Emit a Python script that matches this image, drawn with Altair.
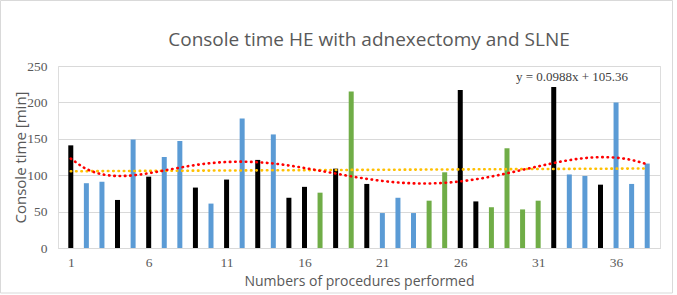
import altair as alt
import pandas as pd

procedures = list(range(1, 39))
console_time = [141, 89, 91, 66, 149, 98, 125, 147, 83, 61,
                94, 178, 121, 156, 69, 84, 76, 109, 215, 88,
                48, 69, 48, 65, 104, 217, 64, 56, 137, 53,
                65, 221, 101, 99, 87, 200, 88, 116]
group = ["A", "B", "B", "A", "B", "A", "B", "B", "A", "B",
         "A", "B", "A", "B", "A", "A", "C", "A", "C", "A",
         "B", "B", "B", "C", "C", "A", "A", "C", "C", "C",
         "C", "A", "B", "B", "A", "B", "B", "B"]
group_names = ["A", "B", "C"]
group_colors = ["#000000", "#5B9BD5", "#70AD47"]
x_ticks = [1, 6, 11, 16, 21, 26, 31, 36]
y_ticks = [0, 50, 100, 150, 200, 250]
equation = "y = 0.0988x + 105.36"
title_text = "Console time HE with adnexectomy and SLNE"

df = pd.DataFrame({"procedure": procedures, "time": console_time, "group": group})

W, H = 602, 182
x_scale = alt.Scale(domain=[0.5, 38.5], nice=False, zero=False)
y_scale = alt.Scale(domain=[0, 250], nice=False)

x_axis = alt.Axis(values=x_ticks, title="Numbers of procedures performed",
                  grid=False, ticks=False, domain=True, domainColor="#d9d9d9",
                  labelOverlap=False,
                  labelFont="Liberation Serif", labelFontSize=13.5, labelColor="#595959",
                  labelPadding=7, titleFont="Open Sans", titleFontSize=14,
                  titleFontWeight="normal", titleColor="#595959", titlePadding=6)
y_axis = alt.Axis(values=y_ticks, title="Console time [min]",
                  grid=True, gridColor="#d9d9d9", ticks=False, domain=False,
                  labelOverlap=False,
                  labelFont="Liberation Serif", labelFontSize=13.5, labelColor="#595959",
                  labelPadding=11, titleFont="Open Sans", titleFontSize=15,
                  titleFontWeight="normal", titleColor="#595959",
                  titleX=-38, titleY=H / 2, titleBaseline="middle")

x_enc = alt.X("procedure:Q", scale=x_scale, axis=x_axis)
y_enc = alt.Y("time:Q", scale=y_scale, axis=y_axis)

base = alt.Chart(df)

bars = base.mark_bar(size=5).encode(
    x=x_enc, y=y_enc,
    color=alt.Color("group:N", scale=alt.Scale(domain=group_names, range=group_colors), legend=None),
)

lin = base.transform_regression("procedure", "time", method="linear").mark_line(
    color="#FFC000", strokeDash=[0.5, 4.8], strokeCap="round", strokeWidth=2.6
).encode(x=x_enc, y=y_enc)

poly = base.transform_regression("procedure", "time", method="poly", order=6).mark_line(
    color="#FF0000", strokeDash=[0.5, 4.8], strokeCap="round", strokeWidth=2.6
).encode(x=x_enc, y=y_enc)

eq = alt.Chart(pd.DataFrame({"t": [equation]})).mark_text(
    font="Liberation Serif", fontSize=13, color="#404040", align="center", baseline="middle"
).encode(text="t:N", x=alt.value(514), y=alt.value(11))

ttl = alt.Chart(pd.DataFrame({"t": [title_text]})).mark_text(
    font="Open Sans", fontSize=19, color="#595959", align="center", baseline="middle"
).encode(text="t:N", x=alt.value(311), y=alt.value(-26))

frame = alt.Chart(pd.DataFrame({"t": [0]})).mark_rect(
    fill=None, stroke="#d9d9d9", strokeWidth=1
).encode(x=alt.value(-57.5), x2=alt.value(614.5), y=alt.value(-65.5), y2=alt.value(227))

chart = alt.layer(bars, lin, poly, eq, ttl, frame).properties(
    width=W, height=H,
    autosize=alt.AutoSizeParams(type="none"),
    padding={"left": 58, "top": 66, "right": 17, "bottom": 47},
).configure_view(stroke=None).configure(background="white")

chart.save("out.html", embed_options={"renderer": "svg", "actions": False})
